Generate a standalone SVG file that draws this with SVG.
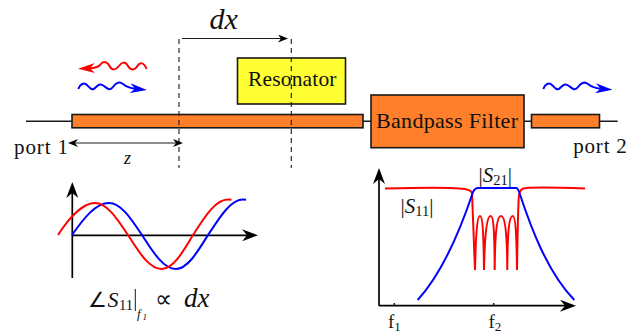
<svg xmlns="http://www.w3.org/2000/svg" width="639" height="335" viewBox="0 0 639 335">
<defs>
<marker id="thin" markerUnits="userSpaceOnUse" markerWidth="12" markerHeight="8" viewBox="0 0 10 8" refX="3" refY="4" orient="auto-start-reverse"><path d="M10 4L0 0L3 4L0 8Z" fill="#000"/></marker>
<marker id="axis" markerUnits="userSpaceOnUse" markerWidth="16" markerHeight="12" viewBox="0 0 16 12" refX="5" refY="6" orient="auto"><path d="M16 6L0 0L5 6L0 12Z" fill="#000"/></marker>
<marker id="wr" markerUnits="userSpaceOnUse" markerWidth="17" markerHeight="10" viewBox="0 0 17 10" refX="5" refY="5" orient="auto"><path d="M17 5L0 0L5 5L0 10Z" fill="#f00"/></marker>
<marker id="wb" markerUnits="userSpaceOnUse" markerWidth="17" markerHeight="10" viewBox="0 0 17 10" refX="5" refY="5" orient="auto"><path d="M17 5L0 0L5 5L0 10Z" fill="#00f"/></marker>
</defs>
<style>
text{font-family:"Liberation Serif","DejaVu Serif",serif;fill:#111}
.i{font-style:italic}
.sym{font-family:"DejaVu Sans",sans-serif}
.box{stroke:#1a1a1a;stroke-width:1.6}
.or{fill:#ff7f2a}
.ln{fill:none;stroke:#1a1a1a;stroke-width:1.5}
.dash{fill:none;stroke:#1a1a1a;stroke-width:1.1;stroke-dasharray:5 4}
.thin{fill:none;stroke:#1a1a1a;stroke-width:1;marker-end:url(#thin)}
.ax{fill:none;stroke:#000;stroke-width:1.7;marker-end:url(#axis)}
.r{fill:none;stroke:#f00;stroke-width:2}
.b{fill:none;stroke:#00f;stroke-width:2}
</style>
<g id="connectors">
<path class="ln" d="M26 121.3H72M363 121.3H371M524 121.3H532M599 121.3H617.7"/>
</g>
<g id="line-1"><rect class="box or" x="72" y="114.5" width="291" height="13.3"/></g>
<g id="resonator"><rect class="box" fill="#ffff33" x="237.5" y="58" width="108" height="46"/><text x="248" y="85.7" font-size="21.5" textLength="88.5">Resonator</text></g>
<g id="bandpass-filter"><rect class="box or" x="371" y="95" width="153" height="52.7"/><text x="376" y="127.7" font-size="22" textLength="142">Bandpass Filter</text></g>
<g id="line-2"><rect class="box or" x="531.5" y="114.5" width="68" height="13.3"/></g>
<g id="dimensions">
<path class="dash" d="M179 39V168M291.3 39V168"/>
<path class="thin" d="M182 38.5H281"/>
<path class="thin" style="marker-start:url(#thin)" d="M75 143H176"/>
<text class="i" x="209.5" y="29" font-size="30">dx</text>
<text class="i" x="124" y="163.5" font-size="18">z</text>
<text x="14" y="153.5" font-size="21" textLength="54">port 1</text>
<text x="573.3" y="153" font-size="21" textLength="53.5">port 2</text>
</g>
<g id="waves">
<path class="r" style="marker-end:url(#wr)" d="M146.5 69C144 62 140 62 137.5 66S131 71 128 66S122 62 119 66S112 71 109.5 66S103 61 100 65Q97 68 90 68.3"/>
<path class="b" style="marker-end:url(#wb)" d="M78.3 89C80 84 84 82 87 85S92 91 95 88S100 83 104 86S110 91 113 87S119 81 123 84Q128 88 135 88.7"/>
<path class="b" style="marker-end:url(#wb)" d="M543.3 89C545 84 549 82 552 85S557 91 560 88S565 83 569 86S575 91 578 87S584 81 588 84Q593 88 600.5 88.7"/>
</g>
<g id="phase-plot">
<path class="ax" d="M72.3 278V193"/>
<path class="ax" d="M72 235.3H247"/>
<path class="b" d="M72 235C84 218 95.6 203 109 203C121 203 131 218.5 142 235C153 252 163.5 269 175.7 269C187.4 269 197.5 252 208 235C219.4 218 230.3 199.5 243 199.5Q245 199.5 246 199.7"/>
<path class="r" d="M58 235C69 218 83 203 95 203C107 203 117 218.5 128 235C139 252 149 269 161.7 269C173 269 183 252 193 235C204 218 215 199.5 228 199.5Q230 199.5 231.5 199.7"/>
<text class="sym" x="88" y="306.5" font-size="21">∠</text>
<text class="i" x="107.5" y="306.5" font-size="22">S</text>
<text x="119" y="310" font-size="14.5">11</text>
<path class="ln" style="stroke-width:1" d="M135.3 289V311"/>
<text class="i" x="137" y="318" font-size="13">f</text><text class="i" x="142.5" y="320" font-size="9">1</text>
<text class="sym" x="155" y="306.5" font-size="24">∝</text>
<text class="i" x="184" y="306.5" font-size="27">dx</text>
</g>
<g id="filter-plot">
<path class="ax" d="M379 305.7V179"/>
<path class="ax" d="M379 305.7H565"/>
<path class="ln" d="M394.3 305.7V303M493.7 305.7V303"/>
<path class="r" d="M385 188.5C420 187.5 450 187.5 460 188.5Q470.5 189 472 193C473 215 474 240 475 270C476 225 478 216 480 216C482 216 483.5 225 484 270C485 225 488 216 490.7 216C493 216 494.5 225 494.7 270C495 225 498 216 501 216C504 216 507 225 507.3 270C507.5 225 510 216 512.7 216C515 216 516.5 230 517 270C517.5 235 518 205 519 195Q520 188 526 188C540 187 570 188 585 188.5"/>
<path class="b" d="M417.7 300C445 270 462 225 473 192Q475 188 478 188H516Q518 188 519.5 193C530 225 547 272 574.3 300"/>
<text x="478.5" y="181.5" font-size="21">|<tspan class="i">S</tspan><tspan font-size="14.5" dy="3">21</tspan><tspan dy="-3">|</tspan></text>
<text x="400.5" y="213" font-size="21">|<tspan class="i">S</tspan><tspan font-size="14.5" dy="3">11</tspan><tspan dy="-3">|</tspan></text>
<text x="388" y="328" font-size="19">f<tspan font-size="13" dy="3">1</tspan></text>
<text x="488.5" y="328" font-size="19">f<tspan font-size="13" dy="3">2</tspan></text>
</g>
</svg>
